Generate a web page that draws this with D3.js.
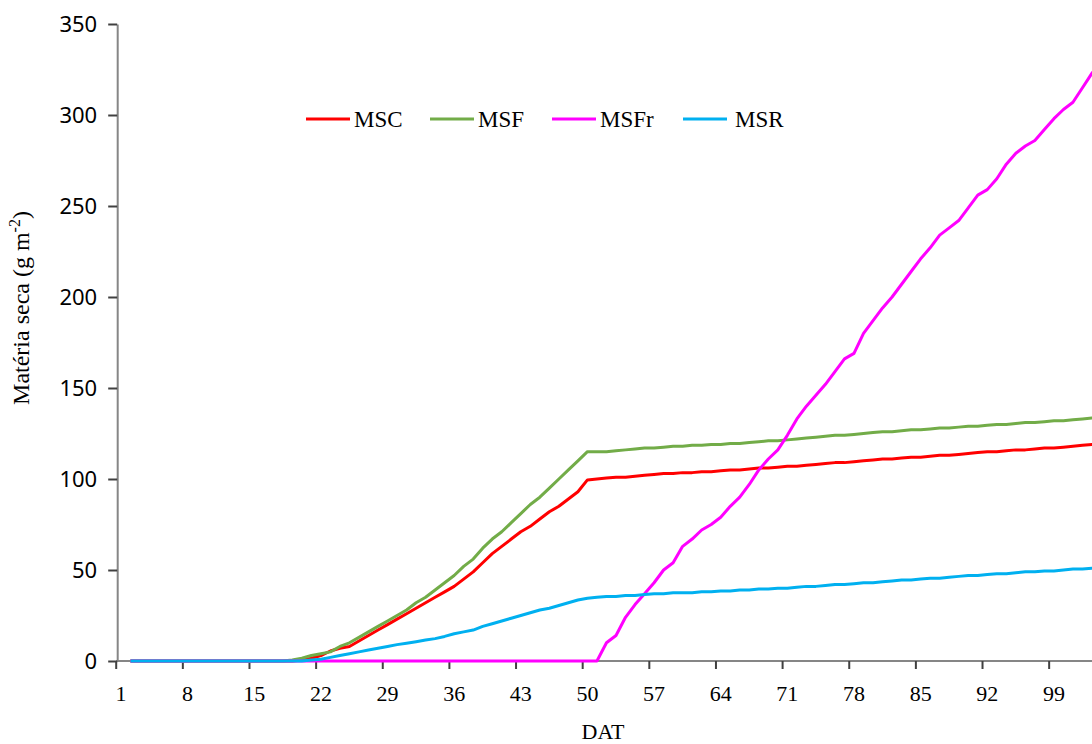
<!DOCTYPE html>
<html><head><meta charset="utf-8">
<script src="https://cdn.jsdelivr.net/npm/d3@7"></script>
<style>body{margin:0;background:#fff;overflow:hidden} svg{display:block}</style>
</head><body><svg id="c" width="1092" height="744"></svg>
<script>
// Categories: DAT (days after transplanting) 1..104; series start at day 2
const days = d3.range(1, 105);
const firstDay = 2;
const xLabels = [1, 8, 15, 22, 29, 36, 43, 50, 57, 64, 71, 78, 85, 92, 99];
const yTicks = [0, 50, 100, 150, 200, 250, 300, 350];
const seriesNames = ["MSC", "MSF", "MSFr", "MSR"];
const seriesColors = ["#ff0000", "#72ac48", "#ff00ff", "#00b0f0"];

// values for days 2..104
const MSC = [
  0,0,0,0,0,0,0,0,0,0,0,0,0,0,0,0,0,0,              // 2-19
  0.5,1.5,3,5.5,7,8,11,14,17,20,                    // 20-29
  23,26,29,32,35,38,41,45,49,54,                    // 30-39
  59,63,67,71,74,78,82,85,89,93,99.5,               // 40-50
  100,100.5,101,101,101.5,102,102.5,103,103,103.5,  // 51-60
  103.5,104,104,104.5,105,105,105.5,106,106,106.5,  // 61-70
  107,107,107.5,108,108.5,109,109,109.5,110,110.5,  // 71-80
  111,111,111.5,112,112,112.5,113,113,113.5,114,    // 81-90
  114.5,115,115,115.5,116,116,116.5,117,117,117.5,  // 91-100
  118,118.5,119,119.5                               // 101-104
];
const MSF = [
  0,0,0,0,0,0,0,0,0,0,0,0,0,0,0,0,0,                // 2-18
  0.5,1.5,3,4,5,8,10,13,16,19,22,                   // 19-29
  25,28,32,35,39,43,47,52,56,62,                    // 30-39
  67,71,76,81,86,90,95,100,105,110,115,             // 40-50
  115,115,115.5,116,116.5,117,117,117.5,118,118,    // 51-60
  118.5,118.5,119,119,119.5,119.5,120,120.5,121,121,// 61-70
  121.5,122,122.5,123,123.5,124,124,124.5,125,125.5,// 71-80
  126,126,126.5,127,127,127.5,128,128,128.5,129,    // 81-90
  129,129.5,130,130,130.5,131,131,131.5,132,132,    // 91-100
  132.5,133,133.5,134                               // 101-104
];
const MSFr = [
  0,0,0,0,0,0,0,0,0,0,0,0,0,0,0,0,0,0,0,0,0,0,0,0,0, // 2-26
  0,0,0,0,0,0,0,0,0,0,0,0,0,0,0,0,0,0,0,0,0,0,0,0,0, // 27-51
  10,14,24,31,37,43,50,54,63,                       // 52-60
  67,72,75,79,85,90,97,105,111,116,                 // 61-70
  124,133,140,146,152,159,166,169,180,187,          // 71-80
  194,200,207,214,221,227,234,238,242,249,          // 81-90
  256,259,265,273,279,283,286,292,298,303,          // 91-100
  307,315,323,330                                   // 101-104
];
const MSR = [
  0,0,0,0,0,0,0,0,0,0,0,0,0,0,0,0,0,0,0,            // 2-20
  0.5,1,2,3,4,5,6,7,8,9,                            // 21-30
  9.8,10.6,11.5,12.3,13.5,15,16,17,19,20.5,         // 31-40
  22,23.5,25,26.5,28,29,30.5,32,33.5,34.5,          // 41-50
  35,35.5,35.5,36,36,36.5,37,37,37.5,37.5,          // 51-60
  37.5,38,38,38.5,38.5,39,39,39.5,39.5,40,          // 61-70
  40,40.5,41,41,41.5,42,42,42.5,43,43,              // 71-80
  43.5,44,44.5,44.5,45,45.5,45.5,46,46.5,47,        // 81-90
  47,47.5,48,48,48.5,49,49,49.5,49.5,50,            // 91-100
  50.5,50.5,51,51.5                                 // 101-104
];
const seriesValues = [MSC, MSF, MSFr, MSR];

const svg = d3.select("#c");
const x0 = 116.2, cw = 9.52;
const x = d3.scaleBand().domain(days).range([x0, x0 + days.length * cw]).padding(0);
const y = d3.scaleLinear().domain([0, 350]).range([661, 24]);
const bw = x.bandwidth();

// X axis
const xg = svg.append("g").attr("transform", `translate(0,${y(0)})`);
xg.append("line").attr("x1", x0).attr("x2", x.range()[1]).attr("y1", 0).attr("y2", 0)
  .attr("stroke", "#868686").attr("stroke-width", 2);
xg.selectAll("line.tk").data(xLabels).join("line").attr("class", "tk")
  .attr("x1", d => x(d)).attr("x2", d => x(d)).attr("y1", 0).attr("y2", 8)
  .attr("stroke", "#404040").attr("stroke-width", 2);
const xAxis = svg.append("g").attr("transform", `translate(0,${y(0)})`)
  .call(d3.axisBottom(x).tickValues(xLabels).tickSize(0).tickPadding(24));
xAxis.select(".domain").remove();
xAxis.selectAll("text").attr("font-family", "Liberation Serif").attr("font-size", 22).attr("fill", "#000");

// Y axis
const yAxis = svg.append("g").attr("transform", `translate(${x0 + 1},0)`)
  .call(d3.axisLeft(y).tickValues(yTicks).tickSize(9).tickPadding(11).tickSizeOuter(0));
yAxis.select(".domain").attr("stroke", "#868686").attr("stroke-width", 2);
yAxis.selectAll(".tick line").attr("stroke", "#404040").attr("stroke-width", 2);
yAxis.selectAll("text").attr("font-family", "Noto Sans").attr("font-size", 22).attr("fill", "#000");

// Lines
const line = d3.line()
  .defined(d => d.v != null)
  .x(d => x(d.day) + bw / 2)
  .y(d => y(d.v));
seriesValues.forEach((vals, i) => {
  const pts = vals.map((v, k) => ({ day: firstDay + k, v }));
  svg.append("path").datum(pts).attr("d", line)
    .attr("fill", "none").attr("stroke", seriesColors[i]).attr("stroke-width", 3)
    .attr("stroke-linejoin", "round");
});

// Legend
const legX = [306, 430, 552, 683];
const lg = svg.append("g");
seriesNames.forEach((n, i) => {
  lg.append("line").attr("x1", legX[i]).attr("x2", legX[i] + 44).attr("y1", 119).attr("y2", 119)
    .attr("stroke", seriesColors[i]).attr("stroke-width", 3);
  lg.append("text").attr("x", legX[i] + 48 + (i === 3 ? 4 : 0)).attr("y", 127)
    .attr("font-family", "Liberation Serif").attr("font-size", 23).attr("fill", "#000").text(n);
});

// Axis titles
svg.append("text").attr("x", 603).attr("y", 739).attr("text-anchor", "middle")
  .attr("font-family", "Liberation Serif").attr("font-size", 22).text("DAT");
const yt = svg.append("text").attr("transform", "translate(29,308) rotate(-90)").attr("text-anchor", "middle")
  .attr("font-family", "Liberation Serif").attr("font-size", 24);
yt.append("tspan").text("Matéria seca (g m");
yt.append("tspan").attr("font-size", 16).attr("dy", -9).text("-2");
yt.append("tspan").attr("dy", 9).text(")");
</script></body></html>
